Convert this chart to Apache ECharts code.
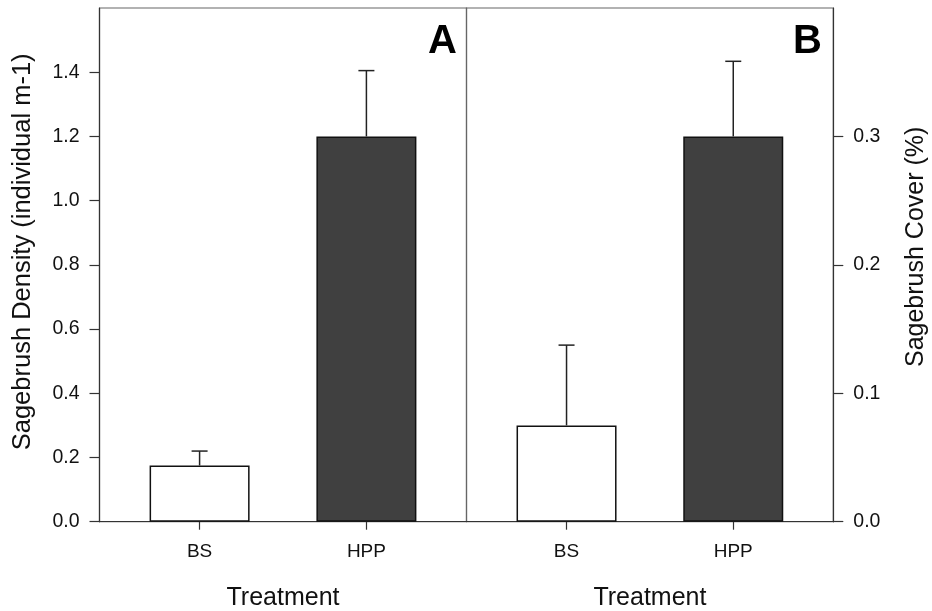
<!DOCTYPE html>
<html><head><meta charset="utf-8">
<script src="https://cdn.jsdelivr.net/npm/echarts@6/dist/echarts.min.js"></script>
<style>html,body{margin:0;padding:0;background:#fff}#c{width:932px;height:611px}</style>
</head><body><div id="c"></div>
<script>
const treatments = ['BS', 'HPP'];
const densityMean = [0.175, 1.2];
const densityErr = [0.045, 0.205];
const coverMean = [0.075, 0.30];
const coverErr = [0.0625, 0.0585];
const densityTicks = ['0.0', '0.2', '0.4', '0.6', '0.8', '1.0', '1.2', '1.4'];
const coverTicks = ['0.0', '0.1', '0.2', '0.3'];
const barColors = ['#ffffff', '#404040'];
const panelLetters = ['A', 'B'];

const FONT = "'Liberation Sans', Arial, sans-serif";
const xPos = treatments.map((t, i) => i + 1);

function barData(means) {
  return means.map((v, i) => ({ value: [xPos[i], v], itemStyle: { color: barColors[i] } }));
}
function errData(means, errs) {
  return means.map((v, i) => [xPos[i], v, v + errs[i]]);
}
function errRender(params, api) {
  const x = api.value(0);
  const p0 = api.coord([x, api.value(1)]);
  const p1 = api.coord([x, api.value(2)]);
  const half = 8;
  const st = { stroke: '#222', lineWidth: 1.5 };
  return {
    type: 'group',
    children: [
      { type: 'line', shape: { x1: p0[0], y1: p0[1], x2: p1[0], y2: p1[1] }, style: st },
      { type: 'line', shape: { x1: p1[0] - half, y1: p1[1], x2: p1[0] + half, y2: p1[1] }, style: st }
    ]
  };
}

function xAxisCfg(gridIndex) {
  return {
    type: 'value', gridIndex, min: 0.4, max: 2.6,
    name: 'Treatment', nameLocation: 'middle', nameGap: 64,
    nameTextStyle: { fontFamily: FONT, fontSize: 25, color: '#111' },
    axisLine: { show: true, lineStyle: { color: '#333', width: 1.2 } },
    axisTick: { show: true, customValues: xPos, length: 8, lineStyle: { color: '#333', width: 1.2 } },
    axisLabel: { customValues: xPos, margin: 21, fontFamily: FONT, fontSize: 19, color: '#111',
      formatter: v => treatments[Math.round(v) - 1] || '' },
    splitLine: { show: false }
  };
}
function yAxisCfg(gridIndex, pos, max, ticks, name, shift, fs) {
  return {
    type: 'value', gridIndex, position: pos, min: 0, max,
    name, nameLocation: 'middle', nameRotate: 90, nameGap: pos === 'left' ? 64 : 70,
    nameTextStyle: { fontFamily: FONT, fontSize: fs, color: '#111', padding: [0, 0, 0, shift] },
    axisLine: { show: true, lineStyle: { color: '#333', width: 1.2 } },
    axisTick: { show: true, customValues: ticks.map(Number), length: 10, lineStyle: { color: '#333', width: 1.2 } },
    axisLabel: { customValues: ticks.map(Number), margin: 20, fontFamily: FONT, fontSize: 19.5, color: '#111',
      formatter: v => v.toFixed(1) },
    splitLine: { show: false }
  };
}

const chart = echarts.init(document.getElementById('c'), null, { renderer: 'canvas' });
chart.setOption({
  animation: false,
  backgroundColor: '#fff',
  grid: [
    { left: 99.5, top: 8, width: 367, height: 513.7, outerBoundsMode: 'none', containLabel: false, show: true, borderColor: '#666', borderWidth: 1.2, backgroundColor: 'transparent' },
    { left: 466.5, top: 8, width: 366.8, height: 513.7, outerBoundsMode: 'none', containLabel: false, show: true, borderColor: '#666', borderWidth: 1.2, backgroundColor: 'transparent' }
  ],
  xAxis: [xAxisCfg(0), xAxisCfg(1)],
  yAxis: [
    yAxisCfg(0, 'left', 1.6, densityTicks, 'Sagebrush Density (individual m-1)', 26, 25.5),
    yAxisCfg(1, 'right', 0.4, coverTicks, 'Sagebrush Cover (%)', 36, 25)
  ],
  series: [
    { type: 'bar', xAxisIndex: 0, yAxisIndex: 0, barWidth: 100, data: barData(densityMean),
      itemStyle: { borderColor: '#111', borderWidth: 1.5 } },
    { type: 'custom', xAxisIndex: 0, yAxisIndex: 0, renderItem: errRender, data: errData(densityMean, densityErr), z: 3 },
    { type: 'bar', xAxisIndex: 1, yAxisIndex: 1, barWidth: 100, data: barData(coverMean),
      itemStyle: { borderColor: '#111', borderWidth: 1.5 } },
    { type: 'custom', xAxisIndex: 1, yAxisIndex: 1, renderItem: errRender, data: errData(coverMean, coverErr), z: 3 }
  ],
  graphic: [
    { type: 'text', right: 932 - 457, top: 22, style: { text: panelLetters[0], font: 'bold 40px ' + FONT, fill: '#000' } },
    { type: 'text', right: 932 - 822, top: 22, style: { text: panelLetters[1], font: 'bold 40px ' + FONT, fill: '#000' } }
  ]
});
</script>
</body></html>
